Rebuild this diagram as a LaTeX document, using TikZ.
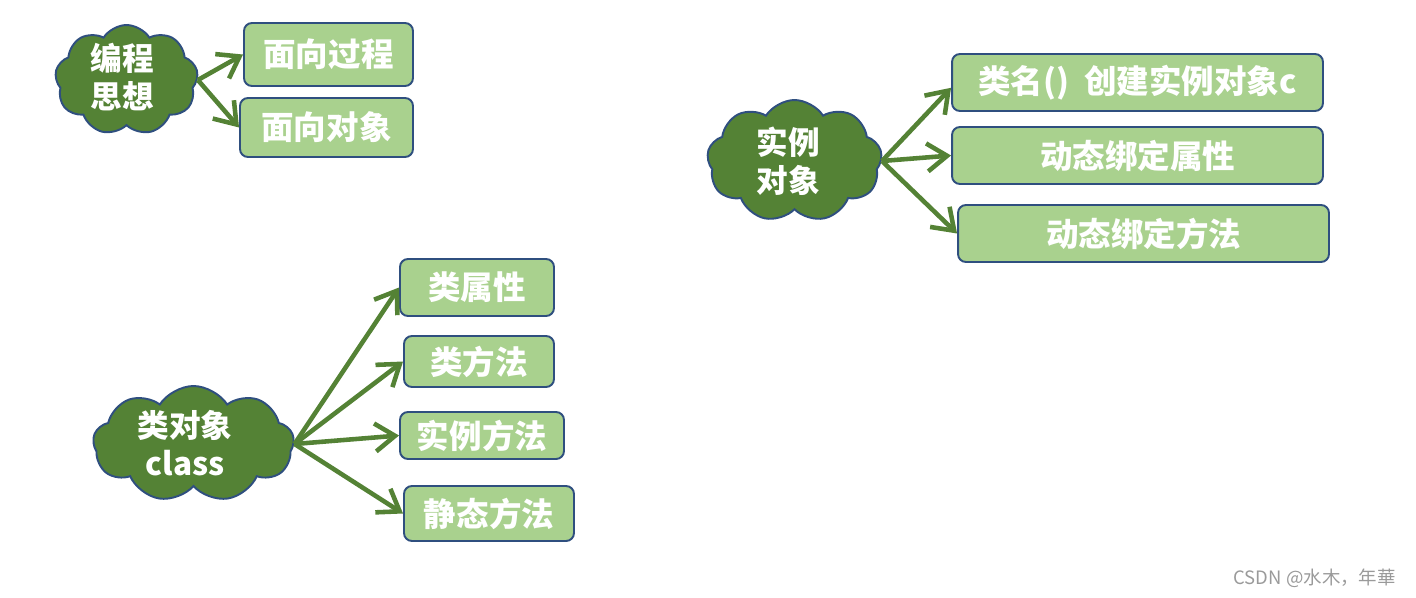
\documentclass[tikz,border=0pt]{standalone}
\usepackage{fontspec}
\setmainfont{Noto Sans CJK SC}
\usetikzlibrary{shapes.symbols,arrows.meta}
\definecolor{cloudgreen}{HTML}{548235}
\definecolor{boxgreen}{HTML}{A9D18E}
\definecolor{edgeblue}{HTML}{2F4F7F}
\definecolor{markgray}{HTML}{9A9A9A}
\tikzset{
  cloudnode/.style={cloud, cloud puffs=9, cloud puff arc=115, cloud ignores aspect, fill=cloudgreen, draw=edgeblue, line width=1.1pt, inner sep=0pt},
  cloudtext/.style={text=white, font=\bfseries\fontsize{18}{21.5}\selectfont, align=center},
  itembox/.style={rectangle, rounded corners=4.5pt, fill=boxgreen, draw=edgeblue, line width=1.1pt, text=white, font=\bfseries\fontsize{18.5}{21}\selectfont, inner sep=0pt},
  conn/.style={draw=cloudgreen, line width=2.6pt, -{Straight Barb[length=0.4cm,width=0.56cm]}}
}
\begin{document}
\begin{tikzpicture}[x=0.02cm,y=-0.02cm]
\useasboundingbox (0,0) rectangle (1416,598);
% clouds
\node[cloudnode, minimum width=2.86cm, minimum height=2.2cm] (c1) at (126.5,80) {};
\node[cloudtext] (t1) at (122,77) {编程\\思想};
\node[cloudnode, minimum width=3.5cm, minimum height=2.44cm] (c2) at (794.5,161) {};
\node[cloudtext] (t2) at (788,161) {实例\\对象};
\node[cloudnode, minimum width=4.02cm, minimum height=2.32cm] (c3) at (193.5,444) {};
\node[cloudtext] (t3) at (185,443) {类对象\\class};
% boxes
\node[itembox, minimum width=3.38cm, minimum height=1.26cm] (b1) at (328.5,54.5) {面向过程};
\node[itembox, minimum width=3.46cm, minimum height=1.18cm] (b2) at (326.5,127.5) {面向对象};
\node[itembox, minimum width=7.42cm, minimum height=1.14cm] (b3) at (1137.5,82.5) {类名()\ \ 创建实例对象c};
\node[itembox, minimum width=7.42cm, minimum height=1.14cm] (b4) at (1137.5,155.5) {动态绑定属性};
\node[itembox, minimum width=7.42cm, minimum height=1.14cm] (b5) at (1143.5,233.5) {动态绑定方法};
\node[itembox, minimum width=3.08cm, minimum height=1.14cm] (b6) at (477,287.5) {类属性};
\node[itembox, minimum width=3.0cm, minimum height=1.02cm] (b7) at (479,361.5) {类方法};
\node[itembox, minimum width=3.28cm, minimum height=0.94cm] (b8) at (482,435.5) {实例方法};
\node[itembox, minimum width=3.4cm, minimum height=1.1cm] (b9) at (489,513.5) {静态方法};
% connectors
\draw[conn] (c1.east) -- (b1.west);
\draw[conn] (c1.east) -- (b2.west);
\draw[conn] (c2.east) -- ([yshift=-3pt]b3.west);
\draw[conn] (c2.east) -- (b4.west);
\draw[conn] (c2.east) -- (b5.west);
\draw[conn] (c3.east) -- (b6.west);
\draw[conn] (c3.east) -- (b7.west);
\draw[conn] (c3.east) -- (b8.west);
\draw[conn] (c3.east) -- (b9.west);
% watermark
\node[text=markgray, font=\fontsize{10.5}{12}\selectfont, anchor=east] (wm) at (1402,578) {CSDN @水木，年華};
\end{tikzpicture}
\end{document}
